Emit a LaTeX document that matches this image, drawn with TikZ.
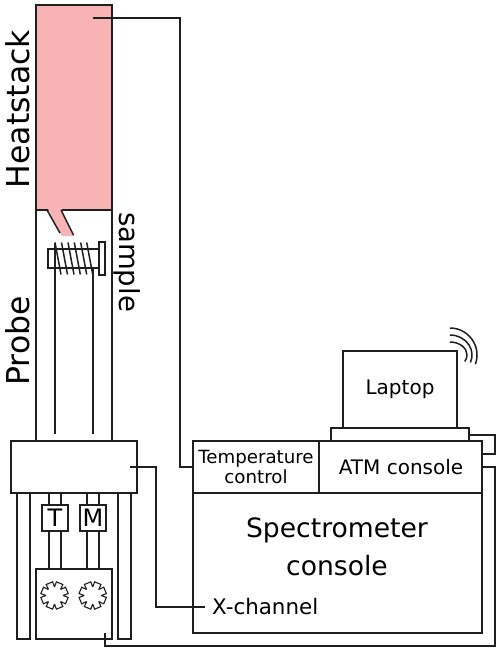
\documentclass[tikz,border=0pt]{standalone}
\usepackage{fontspec}
\setmainfont{DejaVu Sans}
\usetikzlibrary{calc}
\definecolor{heat}{HTML}{F8B4B4}
\tikzset{ln/.style={draw=black!88,line width=1.5pt,outer sep=0pt},
 big/.style={font=\fontsize{31.5}{36}\selectfont,inner sep=0pt},
 med/.style={font=\fontsize{27.5}{30}\selectfont,inner sep=0pt},
 lab/.style={font=\fontsize{20}{24}\selectfont,inner sep=0pt,align=center},
 sm/.style={font=\fontsize{18.2}{19.5}\selectfont,inner sep=0pt,align=center},
 tag/.style={ln,fill=white,minimum size=26pt,inner sep=0pt,font=\fontsize{24}{24}\selectfont}}
\newcommand{\fanglyph}[2]{%
 \draw[ln,line width=1.1pt] 
 \foreach \a in {0,45,...,315}{
   ($(#1,#2)+(\a:8.5)$) -- ($(#1,#2)+(\a+8:13.8)$) -- ($(#1,#2)+(\a+37:13.8)$) -- ($(#1,#2)+(\a+45:8.5)$)
 };}
\begin{document}
\begin{tikzpicture}[x=1pt,y=-1pt]
\useasboundingbox (0,0) rectangle (500,652);
\fill[white] (0,0) rectangle (500,652);
% heatstack
\node[ln,fill=heat,minimum width=76pt,minimum height=205pt,inner sep=0pt,anchor=north west] (hs) at (36,5) {};
\draw[ln] (36,210) -- (36,441) (112,210) -- (112,441);
\fill[heat] (47.5,208) -- (61,208) -- (74,236) -- (62,236) -- cycle;
\draw[ln] (47,210) -- (60,233) (61,210) -- (73.5,235);
% coil
\draw[draw=black!88,line width=1.2pt] (48,249) rectangle (99,268);
\draw[draw=black!88,line width=1.2pt] (99,242) rectangle (105,275);
\foreach \x in {55,61.5,68,74.3,80.7,86.7}{\draw[ln] (\x,242.5) -- (\x+6,274.5);}
\draw[ln] (55,242.5) -- (55,434) (93,268) -- (93,434);
% labels
\node[big,rotate=90] (lh) at (17.5,109) {Heatstack};
\node[big,rotate=90] (lp) at (17.5,341) {Probe};
\node[med,rotate=-90] (ls) at (127.5,262) {sample};
% base
\node[ln,minimum width=126pt,minimum height=52pt,inner sep=0pt,anchor=north west,fill=white] (bx) at (11,441) {};
\draw[ln] (17,493) rectangle (30,639) (118,493) rectangle (131,639);
\draw[ln] (49,493) -- (49,569) (61,493) -- (61,569) (87,493) -- (87,569) (99,493) -- (99,569);
\node[tag] (t) at (55,518) {T};
\node[tag] (m) at (93,518) {M};
\node[ln,fill=white,minimum width=76pt,minimum height=70pt,inner sep=0pt,anchor=north west] (mb) at (36,569) {};
\fanglyph{54.5}{595.5}
\fanglyph{92.7}{595.5}
% console
\node[ln,minimum width=289pt,minimum height=192pt,inner sep=0pt,anchor=north west] (con) at (193,441) {};
\draw[ln] (193,493) -- (482,493) (319,441) -- (319,493);
\node[sm] (tc) at (256,467) {Temperature\\control};
\node[lab] (atm) at (401,467) {ATM console};
\node[font=\fontsize{26.6}{38}\selectfont,inner sep=0pt,align=center] (sc) at (337,547) {Spectrometer\\console};
% laptop
\node[ln,lab,minimum width=114pt,minimum height=77pt,inner sep=0pt,anchor=north west] (lap) at (343,351) {Laptop};
\node[ln,minimum width=138pt,minimum height=13pt,inner sep=0pt,anchor=north west] (lb) at (331,428) {};
\draw[ln] (450,342) arc[start angle=-90,end angle=30,x radius=17,y radius=13]
 (450,335) arc[start angle=-90,end angle=22,x radius=22,y radius=20]
 (450,328) arc[start angle=-90,end angle=20,x radius=27,y radius=27];
% wires
\coordinate (w1) at (93,18);
\draw[ln] (w1) -- (180,18) -- (180,467) -- (193,467);
\coordinate (w2) at (130,467);
\node[anchor=west,font=\fontsize{21.4}{24}\selectfont,inner sep=0pt] (xc) at (212,607) {X-channel};
\coordinate (xe) at (205,607);
\draw[ln] (w2) -- (156,467) -- (156,607) -- (xe);
\draw[ln] (469,435) -- (495,435) -- (495,454) -- (482,454);
\coordinate (w3) at (105,633);
\draw[ln] (482,467) -- (495,467) -- (495,646) -- (105,646) -- (w3);
\end{tikzpicture}
\end{document}
